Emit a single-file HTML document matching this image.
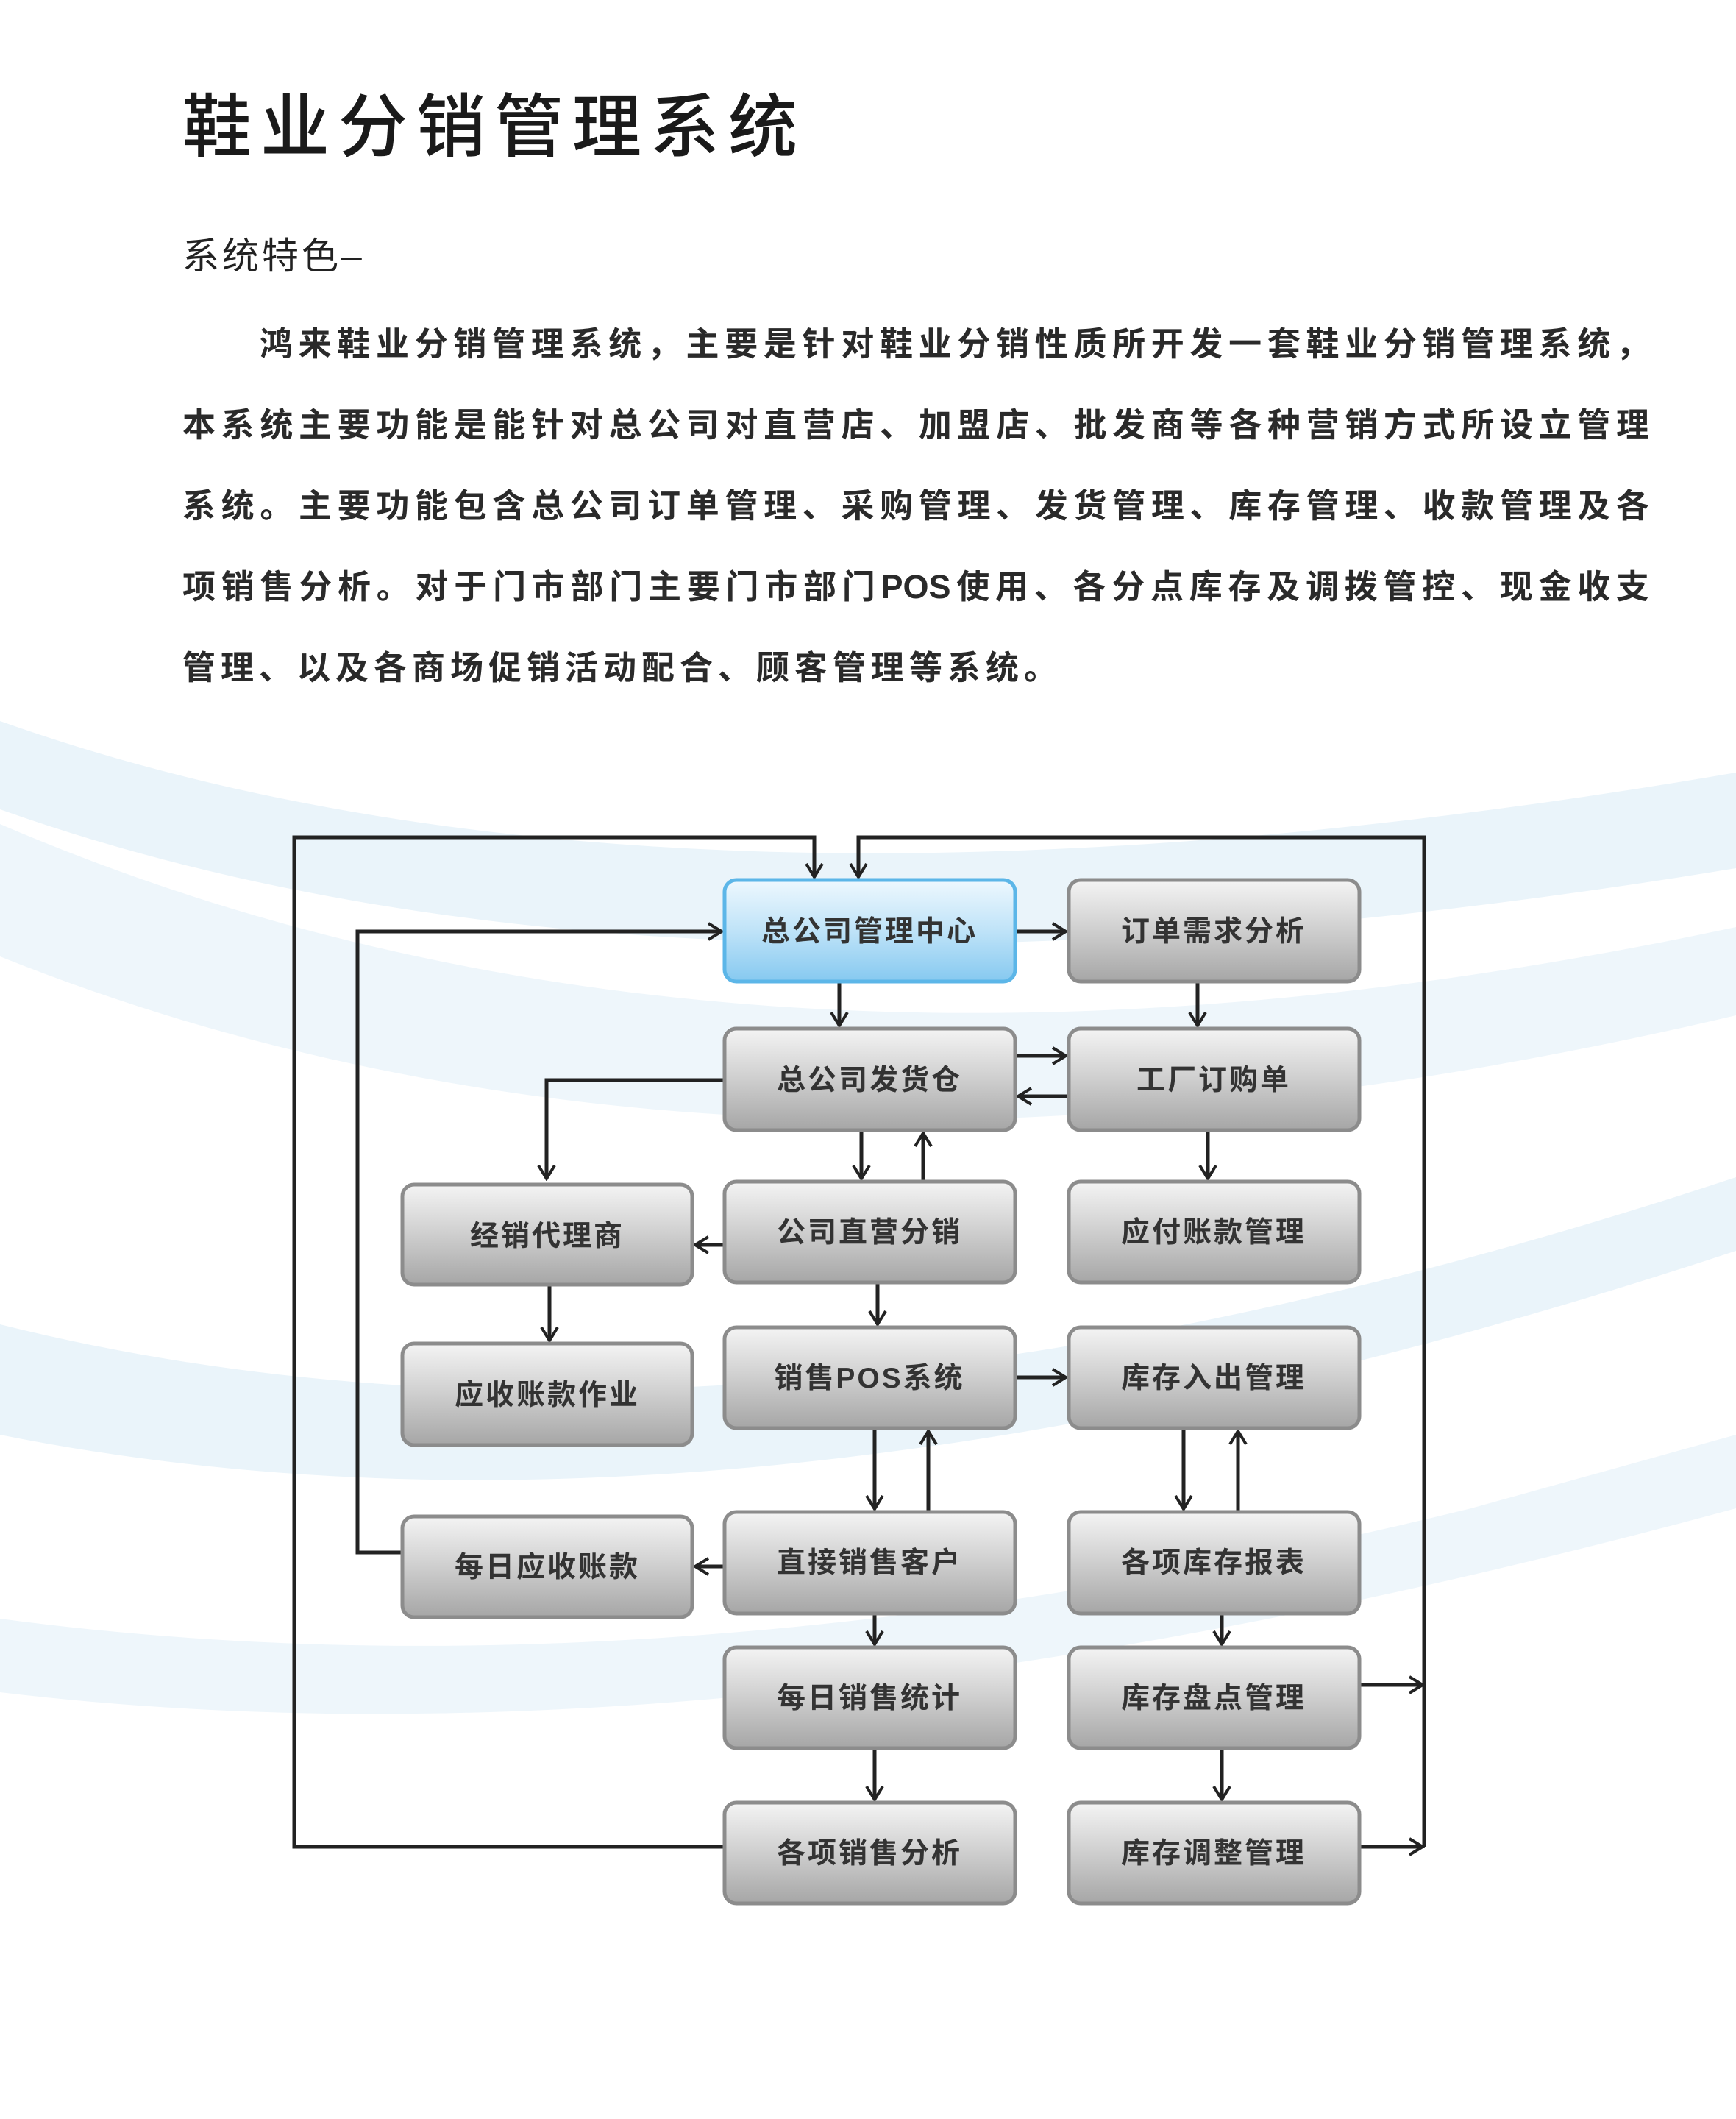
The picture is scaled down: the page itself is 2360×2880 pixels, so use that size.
<!DOCTYPE html>
<html><head><meta charset="utf-8"><style>
body{margin:0;width:2360px;height:2880px;background:#fff;position:relative;overflow:hidden;font-family:"Liberation Sans","Noto Sans CJK SC",sans-serif;color:#222}
.t{position:absolute;left:248px;top:118px;font-size:94px;letter-spacing:12px;line-height:110px;font-weight:500;color:#1a1a1a}
.s{position:absolute;left:248px;top:318px;font-size:50px;line-height:60px;letter-spacing:4px}
.p{position:absolute;left:248px;width:1994px;font-size:45px;line-height:60px;font-weight:bold;color:#2a2a2a;text-align:justify;text-align-last:justify;white-space:nowrap}
svg{position:absolute;left:0;top:0}
</style></head><body>
<svg width="2360" height="2880">
<defs>
<linearGradient id="g" x1="0" y1="0" x2="0" y2="1"><stop offset="0" stop-color="#f4f4f4"/><stop offset="0.45" stop-color="#d2d2d2"/><stop offset="1" stop-color="#a6a6a6"/></linearGradient>
<linearGradient id="b" x1="0" y1="0" x2="0" y2="1"><stop offset="0" stop-color="#eef8fe"/><stop offset="0.5" stop-color="#bfe3f8"/><stop offset="1" stop-color="#86c9f0"/></linearGradient>
<marker id="a" markerWidth="24" markerHeight="26" refX="21" refY="13" orient="auto" markerUnits="userSpaceOnUse" viewBox="0 0 24 26"><polyline points="3,2 21,13 3,24" fill="none" stroke="#222" stroke-width="4"/></marker>
</defs>
<g fill="#eaf4fa">
<path d="M0 980 Q900 1300 2360 1050 L2360 1180 Q900 1420 0 1100Z"/>
<path d="M0 1120 Q1000 1550 2360 1260 L2360 1380 Q1000 1700 0 1300Z" fill="#eef6fb"/>
<path d="M0 1800 Q1000 2050 2360 1600 L2360 1700 Q1000 2150 0 1950Z"/>
<path d="M0 2200 Q900 2320 2000 2050 L2360 1950 L2360 2050 Q1000 2420 0 2300Z" fill="#eef6fb"/>
</g>
<g stroke="#222" stroke-width="5" fill="none">
<polyline points="985,2510 400,2510 400,1138 1107,1138 1107,1192" marker-end="url(#a)"/>
<polyline points="1936,2510 1936,1138 1167,1138 1167,1192" marker-end="url(#a)"/>
<polyline points="547,2110 486,2110 486,1266 981,1266" marker-end="url(#a)"/>
<line x1="1380" y1="1266" x2="1449" y2="1266" marker-end="url(#a)"/>
<line x1="1141" y1="1334" x2="1141" y2="1394" marker-end="url(#a)"/>
<line x1="1628" y1="1334" x2="1628" y2="1394" marker-end="url(#a)"/>
<line x1="1380" y1="1435" x2="1449" y2="1435" marker-end="url(#a)"/>
<line x1="1453" y1="1490" x2="1384" y2="1490" marker-end="url(#a)"/>
<polyline points="985,1468 743,1468 743,1602" marker-end="url(#a)"/>
<line x1="1171" y1="1536" x2="1171" y2="1602" marker-end="url(#a)"/>
<line x1="1255" y1="1606" x2="1255" y2="1540" marker-end="url(#a)"/>
<line x1="1642" y1="1536" x2="1642" y2="1602" marker-end="url(#a)"/>
<line x1="985" y1="1692" x2="945" y2="1692" marker-end="url(#a)"/>
<line x1="747" y1="1746" x2="747" y2="1822" marker-end="url(#a)"/>
<line x1="1193" y1="1743" x2="1193" y2="1800" marker-end="url(#a)"/>
<line x1="1380" y1="1872" x2="1449" y2="1872" marker-end="url(#a)"/>
<line x1="1189" y1="1941" x2="1189" y2="2051" marker-end="url(#a)"/>
<line x1="1262" y1="2055" x2="1262" y2="1945" marker-end="url(#a)"/>
<line x1="1609" y1="1941" x2="1609" y2="2051" marker-end="url(#a)"/>
<line x1="1683" y1="2055" x2="1683" y2="1945" marker-end="url(#a)"/>
<line x1="985" y1="2129" x2="945" y2="2129" marker-end="url(#a)"/>
<line x1="1189" y1="2193" x2="1189" y2="2235" marker-end="url(#a)"/>
<line x1="1661" y1="2193" x2="1661" y2="2235" marker-end="url(#a)"/>
<line x1="1189" y1="2376" x2="1189" y2="2446" marker-end="url(#a)"/>
<line x1="1661" y1="2376" x2="1661" y2="2446" marker-end="url(#a)"/>
<line x1="1848" y1="2290" x2="1934" y2="2290" marker-end="url(#a)"/>
<line x1="1848" y1="2510" x2="1934" y2="2510" marker-end="url(#a)"/>
</g>
<g stroke="#8c8c8c" stroke-width="5" fill="url(#g)">
<rect x="1453" y="1196" width="395" height="138" rx="16"/>
<rect x="985" y="1398" width="395" height="138" rx="16"/>
<rect x="1453" y="1398" width="395" height="138" rx="16"/>
<rect x="547" y="1610" width="394" height="136" rx="16"/>
<rect x="985" y="1606" width="395" height="137" rx="16"/>
<rect x="1453" y="1606" width="395" height="137" rx="16"/>
<rect x="547" y="1826" width="394" height="138" rx="16"/>
<rect x="985" y="1804" width="395" height="137" rx="16"/>
<rect x="1453" y="1804" width="395" height="137" rx="16"/>
<rect x="547" y="2061" width="394" height="137" rx="16"/>
<rect x="985" y="2055" width="395" height="138" rx="16"/>
<rect x="1453" y="2055" width="395" height="138" rx="16"/>
<rect x="985" y="2239" width="395" height="137" rx="16"/>
<rect x="1453" y="2239" width="395" height="137" rx="16"/>
<rect x="985" y="2450" width="395" height="137" rx="16"/>
<rect x="1453" y="2450" width="395" height="137" rx="16"/>
</g>
<rect x="985" y="1196" width="395" height="138" rx="16" fill="url(#b)" stroke="#5cb6e8" stroke-width="5"/>
<g font-family="Liberation Sans,Noto Sans CJK SC,sans-serif" font-size="39" font-weight="bold" fill="#333" text-anchor="middle" letter-spacing="3">
<text x="1182" y="1279">总公司管理中心</text>
<text x="1650" y="1279">订单需求分析</text>
<text x="1182" y="1481">总公司发货仓</text>
<text x="1650" y="1481">工厂订购单</text>
<text x="744" y="1693">经销代理商</text>
<text x="1182" y="1688">公司直营分销</text>
<text x="1650" y="1688">应付账款管理</text>
<text x="744" y="1909">应收账款作业</text>
<text x="1182" y="1886">销售POS系统</text>
<text x="1650" y="1886">库存入出管理</text>
<text x="744" y="2143">每日应收账款</text>
<text x="1182" y="2137">直接销售客户</text>
<text x="1650" y="2137">各项库存报表</text>
<text x="1182" y="2321">每日销售统计</text>
<text x="1650" y="2321">库存盘点管理</text>
<text x="1182" y="2532">各项销售分析</text>
<text x="1650" y="2532">库存调整管理</text>
</g>
</svg>
<div class="t">鞋业分销管理系统</div>
<div class="s">系统特色–</div>
<div class="p" style="top:438px;left:353px;width:1889px">鸿来鞋业分销管理系统，主要是针对鞋业分销性质所开发一套鞋业分销管理系统，</div>
<div class="p" style="top:548px">本系统主要功能是能针对总公司对直营店、加盟店、批发商等各种营销方式所设立管理</div>
<div class="p" style="top:658px">系统。主要功能包含总公司订单管理、采购管理、发货管理、库存管理、收款管理及各</div>
<div class="p" style="top:768px">项销售分析。对于门市部门主要门市部门POS使用、各分点库存及调拨管控、现金收支</div>
<div class="p" style="top:878px;width:auto;letter-spacing:7px;text-align-last:auto">管理、以及各商场促销活动配合、顾客管理等系统。</div>
</body></html>
